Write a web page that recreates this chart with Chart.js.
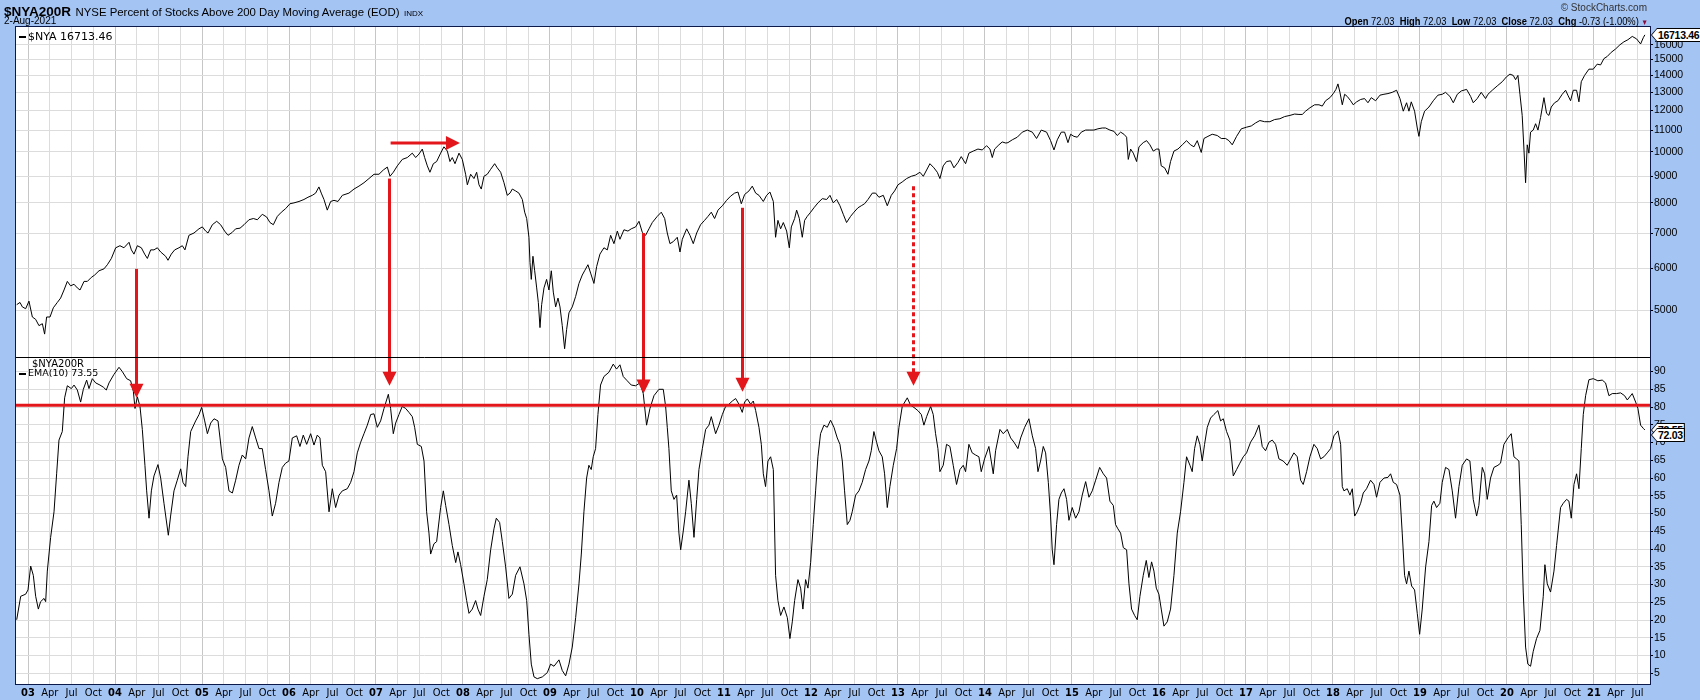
<!DOCTYPE html>
<html>
<head>
<meta charset="utf-8">
<title>$NYA200R NYSE Percent of Stocks Above 200 Day Moving Average</title>
<script src="https://cdn.jsdelivr.net/npm/chart.js@4.4.1/dist/chart.umd.min.js"></script>
<style>
  html, body { margin: 0; padding: 0; background: #a4c4f4; }
  #wrap { position: relative; width: 1700px; height: 700px; overflow: hidden; font-family: 'Liberation Sans', Arial, sans-serif; }
  #chart { position: absolute; left: 0; top: 0; }
  .txt { position: absolute; white-space: nowrap; color: #000; line-height: 1; }
  .legend { font-family: 'DejaVu Sans', sans-serif; font-size: 10px; }
  .dash { display: inline-block; width: 7px; height: 2px; background: #000; vertical-align: middle; margin-right: 2px; }
  .vbox { position: absolute; padding: 1px; background: #000; clip-path: polygon(0 50%, 6px 0, 100% 0, 100% 100%, 6px 100%); }
  .vbox div { background: #fff; clip-path: polygon(0 50%, 5px 0, 100% 0, 100% 100%, 5px 100%);
              font: bold 10.5px 'Liberation Sans', Arial, sans-serif; letter-spacing: -0.3px; line-height: 12px;
              padding: 0 1px 0 6px; color: #000; white-space: nowrap; }
</style>
</head>
<body>
<div id="wrap">
  <canvas id="chart" width="1700" height="700"></canvas>
  <div class="txt" style="left:4px;top:3px;"><b style="font-size:13.5px;">$NYA200R</b> <span style="font-size:11.4px;">NYSE Percent of Stocks Above 200 Day Moving Average (EOD)</span> <span style="font-size:8px;">INDX</span></div>
  <div class="txt" style="left:4px;top:16px;font-size:10px;">2-Aug-2021</div>
  <div class="txt" style="right:53px;top:3px;font-size:10px;color:#333;">© StockCharts.com</div>
  <div class="txt" style="right:52px;top:16px;font-size:11px;transform:scaleX(0.85);transform-origin:right center;"><b>Open</b> 72.03 &nbsp;<b>High</b> 72.03 &nbsp;<b>Low</b> 72.03 &nbsp;<b>Close</b> 72.03 &nbsp;<b>Chg</b> -0.73 (-1.00%) <span style="color:#8b0a3a;font-size:8px;">▼</span></div>
  <div class="txt legend" style="left:19px;top:31px;font-size:11px;"><span class="dash"></span>$NYA 16713.46</div>
  <div class="txt legend" style="left:32px;top:359px;">$NYA200R</div>
  <div class="txt legend" style="left:19px;top:368px;font-size:9.5px;"><span class="dash"></span>EMA(10) 73.55</div>
</div>
<script>
/* DATA */
// NYSE Composite ($NYA) (decimal years)
const priceDates = [
  2002.870,2002.908,2002.935,2002.973,2003.011,2003.050,2003.088,2003.126,2003.165,2003.191,2003.214,2003.253,2003.291,2003.337,2003.375,2003.414,2003.452,2003.490,2003.529,2003.567,
  2003.598,2003.644,2003.682,2003.728,2003.766,2003.816,2003.873,2003.912,2003.958,2004.008,2004.057,2004.103,2004.161,2004.188,2004.218,2004.257,2004.303,2004.341,2004.372,2004.410,
  2004.448,2004.487,2004.525,2004.582,2004.609,2004.647,2004.686,2004.735,2004.774,2004.804,2004.850,2004.908,2004.965,2005.004,2005.042,2005.069,2005.119,2005.169,2005.214,2005.260,
  2005.299,2005.348,2005.387,2005.437,2005.483,2005.540,2005.590,2005.636,2005.693,2005.743,2005.781,2005.820,2005.866,2005.912,2005.961,2006.011,2006.057,2006.115,2006.172,2006.218,
  2006.268,2006.306,2006.344,2006.371,2006.402,2006.440,2006.479,2006.517,2006.563,2006.613,
  2006.689,2006.747,2006.804,2006.862,2006.919,2006.977,2007.034,2007.084,2007.130,2007.161,2007.199,2007.245,2007.302,2007.360,2007.417,2007.456,2007.494,2007.532,2007.559,2007.590,
  2007.620,2007.659,2007.697,2007.743,2007.781,2007.820,2007.850,2007.877,2007.908,2007.954,2007.992,2008.030,2008.050,2008.088,2008.126,2008.157,2008.184,2008.210,2008.241,2008.279,
  2008.318,2008.364,2008.394,2008.433,2008.471,2008.509,2008.540,2008.567,2008.605,2008.643,2008.682,2008.709,2008.732,2008.758,2008.770,2008.785,2008.804,2008.824,2008.847,2008.866,
  2008.885,2008.904,2008.931,2008.961,2008.988,2009.015,2009.038,2009.065,2009.092,2009.115,2009.141,2009.168,2009.191,2009.218,2009.256,2009.295,2009.333,2009.371,2009.398,2009.436,
  2009.467,2009.505,2009.536,2009.574,2009.620,2009.659,2009.697,2009.735,2009.774,2009.804,2009.850,2009.896,2009.934,2009.984,2010.023,2010.061,2010.099,2010.138,2010.176,2010.233,
  2010.279,2010.318,2010.348,2010.379,2010.417,
  2010.463,2010.494,2010.521,2010.571,2010.609,2010.647,2010.686,2010.731,2010.777,2010.816,2010.854,2010.892,2010.931,2010.981,2011.030,2011.076,2011.122,2011.161,2011.199,2011.237,
  2011.287,2011.325,2011.364,2011.402,2011.452,2011.490,2011.528,2011.567,2011.593,2011.620,2011.651,2011.682,2011.720,2011.751,2011.774,2011.812,2011.835,2011.866,2011.900,2011.927,
  2011.957,2011.996,2012.034,2012.080,2012.130,2012.180,2012.218,2012.256,2012.295,2012.333,2012.371,2012.409,2012.455,2012.494,2012.540,2012.578,2012.616,2012.655,2012.705,2012.743,
  2012.781,2012.831,2012.877,2012.923,2012.961,2013.000,2013.049,2013.099,2013.153,2013.203,2013.252,2013.291,2013.329,2013.367,2013.413,2013.452,2013.482,2013.520,2013.558,2013.604,
  2013.643,2013.689,2013.727,2013.777,2013.815,2013.865,2013.919,2013.969,2014.018,2014.057,2014.084,2014.111,2014.160,2014.198,2014.240,
  2014.264,2014.314,2014.371,2014.429,2014.486,2014.544,2014.593,2014.647,2014.708,2014.754,2014.793,2014.831,2014.877,2014.915,2014.954,2014.984,2015.022,2015.061,2015.107,2015.157,
  2015.206,2015.252,2015.298,2015.348,2015.386,2015.436,2015.482,2015.520,2015.559,2015.597,2015.628,2015.647,2015.674,2015.705,2015.743,2015.770,2015.819,2015.858,2015.896,2015.934,
  2015.973,2015.999,2016.026,2016.065,2016.103,2016.133,2016.172,2016.218,2016.268,2016.317,2016.363,2016.402,2016.440,2016.486,2016.517,2016.563,2016.612,2016.670,2016.716,2016.766,
  2016.804,2016.842,2016.892,2016.946,2017.007,2017.061,2017.111,2017.160,2017.214,2017.275,2017.329,2017.390,2017.444,2017.505,2017.559,2017.609,2017.647,2017.685,2017.735,2017.789,
  2017.839,2017.877,2017.915,2017.965,2018.004,2018.034,
  2018.057,2018.080,2018.107,2018.134,2018.164,2018.203,2018.233,2018.272,2018.318,2018.363,2018.402,2018.440,2018.490,2018.540,2018.586,2018.632,2018.681,2018.731,2018.770,2018.808,
  2018.846,2018.873,2018.900,2018.938,2018.969,2018.988,2019.015,2019.053,2019.103,2019.153,2019.206,2019.256,2019.294,2019.344,2019.383,2019.429,2019.475,2019.536,2019.582,2019.612,
  2019.658,2019.704,2019.754,2019.781,2019.831,2019.888,2019.946,2019.995,2020.034,2020.072,2020.099,2020.126,2020.149,2020.175,2020.195,2020.214,2020.233,2020.252,2020.271,2020.302,
  2020.329,2020.356,2020.386,2020.425,2020.455,2020.482,2020.509,2020.547,2020.586,2020.635,2020.674,2020.700,2020.731,2020.762,2020.800,2020.827,2020.854,2020.892,2020.942,2020.992,
  2021.037,2021.076,2021.114,2021.152,2021.198,2021.248,2021.298,2021.344,2021.390,2021.440,2021.490,2021.536,2021.567,2021.585
];
const priceValues = [
  5120,5170,5070,5030,5200,4850,4800,4670,4710,4500,4850,4850,5050,5170,5270,5460,5670,5560,5600,5510,
  5460,5670,5670,5770,5830,5940,5990,6100,6270,6570,6630,6570,6730,6510,6390,6630,6570,6390,6270,6510,
  6510,6570,6450,6330,6220,6390,6510,6570,6630,6510,6940,7010,7140,7200,7070,7010,7270,7380,7270,7070,
  6940,7030,7140,7160,7270,7430,7470,7430,7610,7520,7340,7270,7540,7680,7800,7970,8000,8050,8120,8200,
  8270,8350,8580,8350,8120,7750,8050,8090,8050,8270,
  8350,8500,8610,8740,8900,9070,9070,9240,9360,8990,9150,9410,9680,9760,9950,9760,9910,10130,9760,9410,
  9150,9500,9590,9950,10230,10040,9590,9760,9500,9950,9680,9070,8660,9070,8900,9150,8660,8500,8990,9070,
  9270,9500,9330,9150,8740,8270,8350,8500,8430,8350,8120,7680,7470,6880,6160,5720,6330,5940,5510,5170,
  4630,5120,5510,5720,5460,5940,5410,5070,5270,5070,4670,4220,4590,4940,5070,5310,5620,5830,5940,6100,
  5880,5620,6050,6390,6570,6510,6940,6690,7070,6820,7110,7070,7140,7200,7380,7030,6940,7140,7340,7540,
  7680,7470,7010,6690,6750,
  6880,6450,6820,7140,6940,6690,7010,7270,7410,7540,7680,7470,7750,7900,8090,8240,8350,8390,7970,8300,
  8430,8610,8350,8270,8050,8270,8390,8050,6880,7410,7140,7340,7070,6570,7200,7470,7750,7470,6880,7410,
  7540,7680,7830,8000,8150,8120,8270,8000,8120,7900,7610,7340,7540,7680,7830,7900,7970,8120,8350,8350,
  8200,8270,7900,8270,8430,8660,8770,8900,8990,9040,9150,8990,9240,9500,9330,9150,8900,9410,9590,9620,
  9330,9550,9800,9500,9950,10040,10130,10090,10280,10130,9760,10130,10320,10450,10400,
  10420,10550,10670,10910,11010,10910,10610,11010,10910,10510,10090,10550,10910,10910,10420,10810,10710,10670,10910,11010,
  11010,11010,11070,11110,11110,11010,10950,10750,10910,10810,10670,9680,10130,9950,9590,10230,10420,10510,10320,10040,
  10130,10130,9410,9330,9070,9590,10040,10130,10320,10510,10320,10230,10510,9980,10610,10710,10810,10750,10610,10610,
  10510,10320,10710,11070,11150,11210,11360,11480,11420,11420,11530,11570,11680,11740,11810,11790,11790,11960,12140,12300,
  12300,12230,12520,12690,12920,13160,
  13480,12990,12300,12880,12760,12520,12300,12460,12590,12640,12410,12690,12520,12830,12880,12920,12990,13110,12640,11960,
  12410,11960,12460,11960,11110,10710,11420,11960,12180,12520,12830,12880,12990,12760,12410,12880,13070,13160,12760,12410,
  12640,12990,12640,12880,13110,13360,13610,13910,14070,13990,13730,13990,12880,11740,10130,8740,10320,9950,10910,11010,
  11320,11010,11630,12690,11850,11740,12180,12410,12520,12880,13110,12830,12520,13110,13110,12460,13610,13990,14380,14380,
  14700,14650,15060,15200,15480,15710,16000,16210,16360,16600,16420,16060,16510,16713.46
];

// NYSE % of stocks above 200-day MA, EMA(10)
const breadthDates = [
  2002.870,2002.916,2002.973,2003.000,2003.031,2003.061,2003.088,2003.119,2003.145,2003.184,2003.203,2003.222,2003.260,2003.299,2003.329,2003.356,2003.394,2003.421,2003.452,2003.498,
  2003.529,2003.567,2003.605,2003.636,2003.674,2003.701,2003.739,2003.778,2003.827,2003.866,2003.900,2003.931,2003.988,2004.046,2004.084,2004.134,2004.180,2004.211,2004.230,2004.257,
  2004.287,2004.314,2004.344,2004.364,2004.391,2004.418,2004.448,2004.494,2004.525,2004.563,2004.613,2004.639,2004.678,2004.716,2004.755,2004.781,2004.812,2004.839,2004.870,2004.927,
  2004.966,2004.996,2005.031,2005.062,2005.100,2005.138,2005.184,2005.207,2005.234,2005.272,2005.310,2005.349,2005.387,2005.425,2005.463,2005.502,2005.540,2005.578,2005.617,2005.655,
  2005.693,2005.731,2005.770,2005.808,2005.846,2005.885,2005.923,2005.961,2005.999,2006.038,2006.088,2006.126,2006.164,2006.203,2006.249,2006.287,2006.325,2006.356,2006.383,2006.421,
  2006.460,2006.498,2006.536,2006.575,2006.613,
  2006.670,2006.709,2006.747,2006.785,2006.824,2006.862,2006.900,2006.939,2006.977,2007.015,2007.053,2007.092,2007.142,2007.168,2007.199,2007.226,2007.264,2007.302,2007.341,2007.379,
  2007.417,2007.444,2007.475,2007.521,2007.552,2007.582,2007.609,2007.628,2007.666,2007.697,2007.743,2007.774,2007.801,2007.839,2007.877,2007.916,2007.942,2007.973,2008.011,2008.042,
  2008.069,2008.107,2008.145,2008.172,2008.203,2008.241,2008.279,2008.318,2008.356,2008.383,2008.421,2008.452,2008.490,2008.528,2008.567,2008.605,2008.655,2008.701,2008.732,2008.758,
  2008.785,2008.816,2008.854,2008.912,2008.969,2009.007,2009.046,2009.103,2009.141,2009.180,2009.218,2009.256,2009.295,2009.333,2009.360,2009.390,2009.421,2009.447,2009.474,2009.497,
  2009.524,2009.551,2009.581,2009.620,2009.677,2009.727,2009.765,2009.804,2009.842,2009.888,2009.934,2009.984,2010.034,2010.072,2010.110,2010.149,2010.195,2010.252,2010.302,2010.329,
  2010.348,2010.367,2010.394,2010.425,
  2010.456,2010.482,2010.502,2010.532,2010.559,2010.597,2010.624,2010.655,2010.686,2010.712,2010.751,2010.789,2010.827,2010.854,2010.904,2010.942,2010.981,2011.019,2011.057,2011.096,
  2011.134,2011.172,2011.210,2011.237,2011.268,2011.306,2011.337,2011.364,2011.402,2011.429,2011.452,2011.478,2011.505,2011.536,2011.567,2011.593,2011.620,2011.651,2011.689,2011.728,
  2011.758,2011.785,2011.812,2011.850,2011.881,2011.907,2011.938,2011.965,2011.996,2012.026,2012.053,2012.080,2012.110,2012.149,2012.187,2012.225,2012.264,2012.302,2012.333,2012.360,
  2012.386,2012.417,2012.448,2012.474,2012.513,2012.551,2012.589,2012.628,2012.666,2012.693,2012.723,2012.754,2012.781,2012.819,2012.846,2012.877,2012.907,2012.946,2012.984,2013.011,
  2013.049,2013.107,2013.145,2013.183,2013.229,2013.268,2013.298,2013.329,2013.375,2013.405,2013.432,2013.459,2013.482,2013.520,2013.558,2013.597,2013.635,2013.673,2013.712,2013.750,
  2013.777,2013.815,2013.853,2013.892,2013.930,2013.957,2013.995,2014.045,2014.072,2014.095,2014.122,2014.172,2014.210,
  2014.256,2014.295,2014.333,2014.379,2014.410,2014.456,2014.505,2014.544,2014.582,2014.609,2014.639,2014.670,2014.697,2014.728,2014.754,2014.773,2014.793,2014.823,2014.850,2014.877,
  2014.908,2014.938,2014.965,2015.003,2015.042,2015.080,2015.118,2015.157,2015.195,2015.233,2015.272,2015.318,2015.360,2015.398,2015.436,2015.475,2015.501,2015.528,2015.559,2015.590,
  2015.628,2015.655,2015.685,2015.720,2015.750,2015.781,2015.819,2015.854,2015.884,2015.915,2015.942,2015.969,2015.999,2016.026,2016.057,2016.095,2016.133,2016.172,2016.210,2016.248,
  2016.287,2016.317,2016.356,2016.382,2016.409,2016.440,2016.470,2016.497,2016.524,2016.555,2016.593,2016.631,2016.677,2016.708,2016.739,2016.777,2016.815,2016.854,2016.892,2016.930,
  2016.969,2017.007,2017.053,2017.099,2017.149,2017.187,2017.225,2017.264,2017.302,2017.340,2017.379,2017.428,2017.474,2017.513,2017.551,2017.589,2017.628,2017.658,2017.697,2017.735,
  2017.781,2017.819,2017.858,2017.896,2017.934,2017.973,2018.011,
  2018.057,2018.088,2018.107,2018.126,2018.164,2018.195,2018.222,2018.249,2018.279,2018.318,2018.348,2018.386,2018.432,2018.471,2018.501,2018.540,2018.586,2018.632,2018.662,2018.693,
  2018.731,2018.770,2018.796,2018.823,2018.846,2018.873,2018.904,2018.938,2018.969,2018.996,2019.026,2019.065,2019.103,2019.134,2019.160,2019.191,2019.229,2019.256,2019.294,2019.333,
  2019.371,2019.409,2019.448,2019.486,2019.536,2019.574,2019.612,2019.651,2019.677,2019.716,2019.743,2019.773,2019.811,2019.850,2019.896,2019.926,2019.965,2020.011,2020.049,2020.080,
  2020.110,2020.137,2020.164,2020.187,2020.214,2020.240,2020.271,2020.302,2020.340,2020.379,2020.417,2020.436,2020.463,2020.501,2020.540,2020.570,2020.616,2020.647,2020.685,2020.712,
  2020.739,2020.770,2020.800,2020.827,2020.854,2020.877,2020.904,2020.942,2020.992,2021.045,2021.095,2021.133,2021.172,2021.210,2021.260,2021.306,2021.352,2021.383,2021.440,2021.479,
  2021.505,2021.536,2021.567,2021.585
];
const breadthValues = [
  20.1,26.7,27.3,28.5,35.2,32.6,26.7,23.1,25.2,26.1,25.2,33.8,43.3,50.5,61.2,70.7,73.1,82.6,86.0,85.2,
  86.2,84.8,81.4,85.0,87.6,85.2,88.0,86.8,86.2,85.6,84.8,86.8,89.2,91.2,90.0,88.0,87.4,84.4,79.6,82.9,
  80.2,73.7,63.6,56.4,48.7,56.4,60.6,63.8,60.0,52.9,43.9,49.3,56.4,59.4,62.6,58.8,57.6,66.0,73.1,76.1,
  77.9,79.9,76.1,72.5,75.5,76.7,76.1,71.3,65.4,63.0,56.4,55.8,59.4,63.6,66.5,65.4,71.3,74.5,71.3,68.3,
  68.3,62.4,56.4,49.3,52.9,58.8,63.0,64.2,64.8,71.3,71.9,68.9,72.1,69.5,72.5,69.3,72.1,71.3,63.6,61.8,
  50.5,57.0,51.7,55.2,56.4,
  57.0,58.8,61.8,67.1,70.1,72.5,74.9,77.9,78.1,74.3,76.1,79.6,83.6,79.6,72.5,75.5,77.9,80.2,79.6,78.5,
  77.3,74.3,69.5,68.9,64.8,50.5,44.5,38.6,41.5,42.1,51.7,56.4,52.3,46.9,41.0,36.2,39.2,35.6,30.2,25.5,
  21.9,23.1,25.5,23.1,21.3,26.7,31.4,39.8,45.7,48.7,47.5,42.1,35.0,26.1,27.3,32.6,35.0,30.2,25.5,16.0,
  7.6,4.0,3.5,4.0,5.2,7.6,7.0,8.8,5.8,4.3,7.6,12.4,20.7,30.2,38.6,50.5,60.0,63.6,62.4,66.0,
  68.3,77.9,86.2,88.6,89.8,92.1,90.7,91.9,88.6,87.4,86.2,86.0,86.8,83.8,74.9,79.6,83.2,85.0,85.0,80.2,
  74.3,68.3,56.4,54.0,
  55.2,44.5,39.8,45.1,50.5,59.4,52.9,43.3,54.0,62.4,68.3,73.7,74.9,77.3,72.5,74.9,77.9,80.2,80.8,81.7,
  82.4,80.8,78.5,81.4,82.3,80.8,81.7,79.0,74.3,69.5,61.2,57.6,64.8,66.0,62.4,32.6,25.5,21.3,23.7,20.7,
  14.8,19.5,25.5,31.4,29.0,23.1,31.4,29.0,36.2,46.9,56.4,66.0,72.5,74.9,74.3,76.3,74.3,71.3,69.5,64.8,
  56.4,46.9,48.1,50.5,55.2,56.4,58.8,62.4,64.8,67.7,73.1,70.1,67.7,66.0,61.2,51.7,57.6,63.6,68.3,74.3,
  80.2,82.6,80.5,79.9,79.0,77.9,74.9,77.3,80.2,77.9,72.5,68.3,61.8,63.6,69.5,68.9,63.6,58.2,62.4,63.6,
  61.8,69.5,67.1,66.5,66.0,61.8,65.4,68.9,64.8,61.2,67.7,73.7,72.5,
  73.7,71.3,70.1,68.3,71.3,74.3,76.7,71.9,68.3,61.8,64.8,68.9,67.1,58.8,49.3,39.8,35.6,46.9,54.0,55.8,
  57.0,54.0,48.1,51.7,48.7,50.5,55.2,59.0,54.6,56.4,59.4,63.0,61.2,60.0,53.5,52.3,46.9,45.7,44.5,40.4,
  39.8,30.2,23.1,21.3,20.1,26.7,32.6,36.8,32.0,36.4,33.8,29.0,27.3,23.1,18.3,19.5,23.1,32.6,44.5,50.5,
  58.8,66.0,63.6,61.8,68.3,71.9,69.5,64.8,69.5,74.3,76.9,77.9,79.0,76.1,76.7,73.1,70.7,60.6,62.4,64.2,
  66.0,67.1,70.1,71.9,74.9,68.9,67.7,70.1,70.7,69.5,65.4,64.8,63.6,65.4,67.1,66.0,59.4,58.2,61.8,66.0,
  69.5,68.3,65.4,66.0,67.1,68.3,71.9,
  73.3,69.5,57.6,56.4,57.0,55.2,57.0,49.3,50.5,52.9,55.8,57.0,59.4,58.2,54.6,58.8,60.0,60.2,61.2,58.8,
  58.2,55.2,44.5,32.6,30.2,33.8,29.6,28.5,21.9,16.0,23.1,35.0,42.1,52.3,53.5,51.7,52.9,58.8,63.0,62.4,
  56.4,48.7,57.6,63.6,65.4,64.8,54.0,49.3,52.3,63.0,61.2,54.0,60.0,63.0,63.6,64.2,69.5,71.3,72.5,66.0,
  65.4,64.8,46.9,27.9,12.4,7.6,7.0,11.2,14.8,17.1,26.7,35.6,30.2,27.9,33.8,41.0,51.7,52.9,54.0,53.5,
  48.7,58.2,61.2,57.0,68.3,77.9,83.2,87.7,88.0,87.4,87.6,86.8,83.2,83.8,83.8,84.0,83.2,82.0,83.8,81.4,
  79.6,74.9,74.0,73.55
];
const lastClose = 72.03;          // raw $NYA200R close shown in the right-hand box
const signalLevel = 80.5;         // red horizontal reference line

// red arrows: from a point on $NYA down to a point on the breadth panel
const arrowDates     = [2004.237, 2007.149, 2010.073, 2011.210, 2013.176];
const arrowFromPrice = [5990, 8900, 7010, 7830, 8610];
const arrowToBreadth = [82.6, 86.0, 83.8, 84.3, 86.0];
const arrowDashed    = [false, false, false, false, true];
// horizontal arrow above the 2007 top
const sideArrowDates = [2007.168, 2007.965];
const sideArrowPrice = 10400;

// axes
const xMin = 2002.862, xMax = 2021.644;
const tickYears  = [2003,2004,2005,2006,2007,2008,2009,2010,2011,2012,2013,2014,2015,2016,2017,2018,2019,2020,2021];
const yearLabels = ['03','04','05','06','07','08','09','10','11','12','13','14','15','16','17','18','19','20','21'];
const quarterLabels = ['Apr', 'Jul', 'Oct'];
const priceTicks   = [5000,6000,7000,8000,9000,10000,11000,12000,13000,14000,15000,16000];
const breadthTicks = [5,10,15,20,25,30,35,40,45,50,55,60,65,70,75,80,85,90];
/* DATA */

const RED = '#e3161b';
const NARROW = "'Liberation Sans Narrow', 'DejaVu Sans Condensed', 'Liberation Sans', sans-serif";
const SANS = "'Liberation Sans', Arial, sans-serif";

const quarterTicks = [];
tickYears.forEach(y => {
  [0, 0.25, 0.5, 0.75].forEach(q => {
    const v = y + q;
    if (v >= xMin && v <= xMax) quarterTicks.push(v);
  });
});

function isYear(v) { return Number.isInteger(v); }

function drawDownArrow(ctx, x, y0, y1, dashed) {
  ctx.save();
  ctx.strokeStyle = RED;
  ctx.fillStyle = RED;
  ctx.lineWidth = 3;
  if (dashed) ctx.setLineDash([4, 3]);
  ctx.beginPath();
  ctx.moveTo(x, y0);
  ctx.lineTo(x, y1 - 13);
  ctx.stroke();
  ctx.setLineDash([]);
  ctx.beginPath();
  ctx.moveTo(x - 7, y1 - 14);
  ctx.lineTo(x + 7, y1 - 14);
  ctx.lineTo(x, y1);
  ctx.closePath();
  ctx.fill();
  ctx.restore();
}

function drawSideArrow(ctx, x0, x1, y) {
  ctx.save();
  ctx.strokeStyle = RED;
  ctx.fillStyle = RED;
  ctx.lineWidth = 3;
  ctx.beginPath();
  ctx.moveTo(x0, y);
  ctx.lineTo(x1 - 13, y);
  ctx.stroke();
  ctx.beginPath();
  ctx.moveTo(x1 - 14, y - 7);
  ctx.lineTo(x1 - 14, y + 7);
  ctx.lineTo(x1, y);
  ctx.closePath();
  ctx.fill();
  ctx.restore();
}

const panelPlugin = {
  id: 'panels',
  beforeDraw(chart) {
    const { ctx, chartArea: a } = chart;
    ctx.save();
    ctx.fillStyle = '#a4c4f4';
    ctx.fillRect(0, 0, chart.width, chart.height);
    ctx.fillStyle = '#ffffff';
    ctx.fillRect(a.left, a.top, a.right - a.left, a.bottom - a.top);
    ctx.restore();
  },
  afterDatasetsDraw(chart) {
    const { ctx, chartArea: a, scales } = chart;
    const xs = scales.x, ps = scales.price, bs = scales.breadth;

    // signal line
    const ly = bs.getPixelForValue(signalLevel);
    ctx.save();
    ctx.strokeStyle = RED;
    ctx.lineWidth = 3;
    ctx.beginPath();
    ctx.moveTo(a.left, ly);
    ctx.lineTo(a.right, ly);
    ctx.stroke();
    ctx.restore();

    arrowDates.forEach((d, i) => {
      drawDownArrow(ctx, Math.round(xs.getPixelForValue(d)) + 0.5,
        ps.getPixelForValue(arrowFromPrice[i]), bs.getPixelForValue(arrowToBreadth[i]), arrowDashed[i]);
    });
    drawSideArrow(ctx, xs.getPixelForValue(sideArrowDates[0]), xs.getPixelForValue(sideArrowDates[1]),
      ps.getPixelForValue(sideArrowPrice));

    // panel divider and frame
    ctx.save();
    ctx.strokeStyle = '#000';
    ctx.lineWidth = 1;
    ctx.beginPath();
    ctx.moveTo(a.left, Math.round(ps.bottom) + 0.5);
    ctx.lineTo(a.right, Math.round(ps.bottom) + 0.5);
    ctx.stroke();
    ctx.strokeStyle = '#0b1a4a';
    ctx.strokeRect(a.left - 0.5, a.top - 0.5, a.right - a.left + 1, a.bottom - a.top + 1);
    ctx.restore();
  }
};

const chart = new Chart(document.getElementById('chart'), {
  type: 'line',
  data: {
    datasets: [
      {
        label: '$NYA',
        data: priceDates.map((d, i) => ({ x: d, y: priceValues[i] })),
        yAxisID: 'price',
        borderColor: '#000',
        borderWidth: 1,
        pointRadius: 0,
        tension: 0
      },
      {
        label: 'EMA(10)',
        data: breadthDates.map((d, i) => ({ x: d, y: breadthValues[i] })),
        yAxisID: 'breadth',
        borderColor: '#000',
        borderWidth: 1,
        pointRadius: 0,
        tension: 0
      }
    ]
  },
  options: {
    responsive: false,
    animation: false,
    devicePixelRatio: 1,
    events: [],
    layout: { padding: { left: 16, top: 27, right: 0, bottom: 0 } },
    plugins: { legend: { display: false }, tooltip: { enabled: false } },
    scales: {
      x: {
        type: 'linear',
        position: 'bottom',
        min: xMin,
        max: xMax,
        afterBuildTicks: s => { s.ticks = quarterTicks.map(v => ({ value: v })); },
        afterFit: s => { s.height = 16; },
        grid: {
          color: c => (c.tick && isYear(c.tick.value)) ? '#c6c6c6' : '#dcdcdc',
          drawTicks: false
        },
        border: { display: false },
        ticks: {
          autoSkip: false,
          maxRotation: 0,
          padding: 3,
          color: '#000',
          font: c => ({ family: NARROW, size: 11, weight: (c.tick && isYear(c.tick.value)) ? 'bold' : 'normal' }),
          callback: v => {
            const y = Math.floor(v + 1e-9);
            const q = Math.round((v - y) * 4);
            return q === 0 ? yearLabels[tickYears.indexOf(y)] : quarterLabels[q - 1];
          }
        }
      },
      price: {
        type: 'logarithmic',
        position: 'right',
        stack: 'panes',
        stackWeight: 330,
        min: 4070,
        max: 17300,
        afterBuildTicks: s => { s.ticks = priceTicks.map(v => ({ value: v })); },
        afterFit: s => { s.width = 50; },
        grid: { color: '#dcdcdc', tickColor: '#000', tickLength: 3 },
        border: { display: true, color: '#000' },
        ticks: { autoSkip: false, padding: 1, color: '#000', font: { family: SANS, size: 10.5 }, callback: v => String(v) }
      },
      breadth: {
        type: 'linear',
        position: 'right',
        stack: 'panes',
        stackWeight: 327,
        min: 2,
        max: 94.1,
        afterBuildTicks: s => { s.ticks = breadthTicks.map(v => ({ value: v })); },
        afterFit: s => { s.width = 50; },
        grid: { color: '#dcdcdc', tickColor: '#000', tickLength: 3 },
        border: { display: true, color: '#000' },
        ticks: { autoSkip: false, padding: 1, color: '#000', font: { family: SANS, size: 10.5 }, callback: v => String(v) }
      }
    }
  },
  plugins: [panelPlugin]
});

// value boxes on the right-hand axis
function valueBox(text, y, z) {
  const box = document.createElement('div');
  box.className = 'vbox';
  box.style.left = (chart.chartArea.right + 1) + 'px';
  box.style.top = Math.round(y - 7) + 'px';
  box.style.zIndex = z;
  const inner = document.createElement('div');
  inner.textContent = text;
  box.appendChild(inner);
  document.getElementById('wrap').appendChild(box);
}
valueBox(priceValues[priceValues.length - 1].toFixed(2), chart.scales.price.getPixelForValue(priceValues[priceValues.length - 1]), 1);
valueBox(breadthValues[breadthValues.length - 1].toFixed(2), chart.scales.breadth.getPixelForValue(breadthValues[breadthValues.length - 1]), 1);
valueBox(lastClose.toFixed(2), chart.scales.breadth.getPixelForValue(lastClose), 2);
</script>
</body>
</html>
